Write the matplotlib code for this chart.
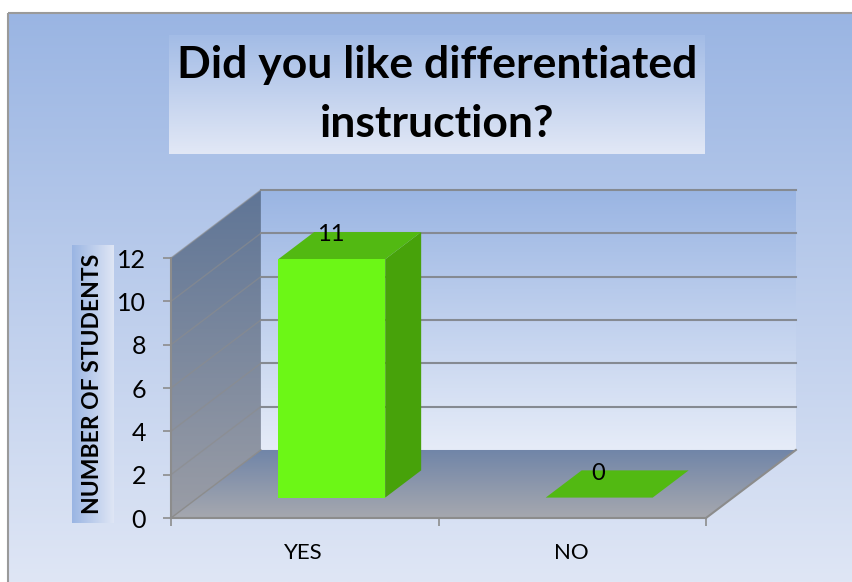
import numpy as np
import matplotlib
matplotlib.use('Agg')
import matplotlib.pyplot as plt
from matplotlib.colors import LinearSegmentedColormap
from matplotlib.patches import Polygon, Rectangle

categories = ['YES', 'NO']
students = [11, 0]
y_ticks = [0, 2, 4, 6, 8, 10, 12]

W, H = 853, 582

# depth of the fake 3d box, in data units
DX = 0.336
DY = 3.14


def proj(x, y, d):
    return x + d * DX, y + d * DY


def px(x0, y0, x1, y1):
    # pixel box (top-left origin) to figure fractions
    return [x0 / W, 1 - y1 / H, (x1 - x0) / W, (y1 - y0) / H]


def grad(ax, c1, c2, extent, clip=None, horizontal=False, z=1):
    cmap = LinearSegmentedColormap.from_list('g', [c1, c2])
    g = np.linspace(0, 1, 256)
    g = g.reshape(1, -1) if horizontal else g.reshape(-1, 1)
    im = ax.imshow(g, cmap=cmap, extent=extent, aspect='auto', zorder=z, origin='upper')
    # the walls stick out of the axes box
    im.set_clip_box(ax.figure.bbox)
    if clip is not None:
        im.set_clip_path(clip)
    return im


fig = plt.figure(figsize=(W / 100, H / 100), dpi=100)

# chart background, in pixel coords
bg = fig.add_axes([0, 0, 1, 1])
grad(bg, '#9ab5e3', '#dfe6f5', (8, W, H, 12))
bg.add_patch(Rectangle((8.5, 12.5), W, H, fill=False, ec='#9a9a9a', lw=1.5, zorder=2))
grad(bg, '#a3bce6', '#e2e8f6', (169, 705, 154, 35), z=3)
grad(bg, '#9ab5e3', '#dfe6f5', (72, 114, 523, 245), horizontal=True, z=3)
bg.set_xlim(0, W)
bg.set_ylim(H, 0)
bg.axis('off')
bg.text(437, 65, 'Did you like differentiated', ha='center', va='center', fontsize=32,
        fontweight='bold', family='Lato', zorder=4)
bg.text(437, 124, 'instruction?', ha='center', va='center', fontsize=32,
        fontweight='bold', family='Lato', zorder=4)
bg.text(93, 384, 'NUMBER OF STUDENTS', rotation=90, ha='center', va='center', fontsize=16.5,
        fontweight='bold', family='Lato', zorder=4)

# main axes sit on the front plane of the box
ax = fig.add_axes(px(171, 258, 706, 518))
ax.patch.set_visible(False)
x_max = len(categories)
y_max = 12

# back wall
grad(ax, '#9ab5e3', '#e6ecf8', (DX, x_max + DX, DY, y_max + DY), z=1)

# left wall
lw_patch = Polygon([proj(0, 0, 0), proj(0, y_max, 0), proj(0, y_max, 1), proj(0, 0, 1)],
                   closed=True, fc='none', ec='none', clip_on=False)
ax.add_patch(lw_patch)
grad(ax, '#5f7596', '#9a9da6', (0, DX, 0, y_max + DY), clip=lw_patch, z=2)

# floor
fl_patch = Polygon([proj(0, 0, 0), proj(x_max, 0, 0), proj(x_max, 0, 1), proj(0, 0, 1)],
                   closed=True, fc='none', ec='none', clip_on=False)
ax.add_patch(fl_patch)
grad(ax, '#7085a8', '#a6a8af', (0, x_max + DX, 0, DY), clip=fl_patch, z=2)

# imshow resets limits
ax.set_xlim(0, x_max)
ax.set_ylim(0, y_max)
for s in ['top', 'right']:
    ax.spines[s].set_visible(False)
for s in ['left', 'bottom']:
    ax.spines[s].set_color('#8c8c8c')
    ax.spines[s].set_linewidth(1.5)
    ax.spines[s].set_zorder(9)
ax.set_yticks(y_ticks)
ax.set_xticks(range(x_max + 1))
ax.set_xticklabels([])
ax.tick_params(axis='both', length=6, width=1.2, color='#8c8c8c', labelsize=18)
ax.tick_params(axis='y', pad=12)
for t in ax.get_yticklabels():
    t.set_family('Lato')

# gridlines
for v in y_ticks[1:]:
    p0, p1, p2 = proj(0, v, 0), proj(0, v, 1), proj(x_max, v, 1)
    ax.plot([p1[0], p2[0]], [p1[1], p2[1]], color='#858a92', lw=1.5, zorder=3, clip_on=False)
    ax.plot([p0[0], p1[0]], [p0[1], p1[1]], color='#8c8c8c', lw=1, alpha=0.6, zorder=3, clip_on=False)
ax.plot(*zip(proj(0, 0, 0), proj(0, 0, 1)), color='#8c8c8c', lw=1, zorder=3, clip_on=False)
ax.plot(*zip(proj(x_max, 0, 0), proj(x_max, 0, 1)), color='#8c8c8c', lw=1.5, zorder=3, clip_on=False)

# bars
bar_w = 0.4
d0, d1 = 0.3, 0.7
for i, (cat, val) in enumerate(zip(categories, students)):
    xl = i + 0.5 - bar_w / 2
    xr = i + 0.5 + bar_w / 2
    if val > 0:
        ax.add_patch(Polygon([proj(xl, 0, d0), proj(xr, 0, d0), proj(xr, val, d0), proj(xl, val, d0)],
                             fc='#6cf716', ec='none', zorder=6, clip_on=False))
        ax.add_patch(Polygon([proj(xr, 0, d0), proj(xr, 0, d1), proj(xr, val, d1), proj(xr, val, d0)],
                             fc='#47a20a', ec='none', zorder=5, clip_on=False))
    ax.add_patch(Polygon([proj(xl, val, d0), proj(xr, val, d0), proj(xr, val, d1), proj(xl, val, d1)],
                         fc='#52b912', ec='none', zorder=5, clip_on=False))
    lx = proj(i + 0.5, val, d0)[0]
    ly = proj(i + 0.5, val, d1)[1]
    ax.annotate(str(val), (lx, ly), xytext=(-1, -2), textcoords='offset points', ha='center', va='center',
                fontsize=17, family='Lato', zorder=7, annotation_clip=False)
    ax.annotate(cat, (i + 0.5, 0), xytext=(-1, -25), textcoords='offset points', ha='center',
                va='center', fontsize=16, family='Lato', annotation_clip=False)

fig.savefig('out.png', dpi=100)
